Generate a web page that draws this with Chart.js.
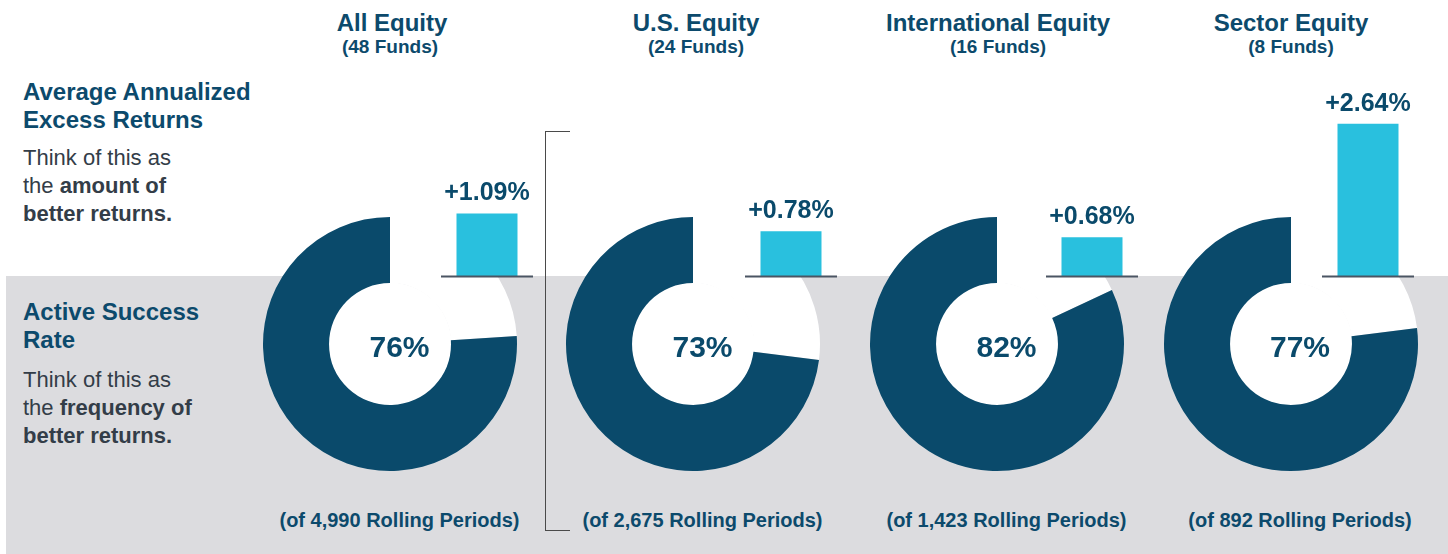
<!DOCTYPE html>
<html>
<head>
<meta charset="utf-8">
<script src="https://cdn.jsdelivr.net/npm/chart.js@4.4.1/dist/chart.umd.min.js"></script>
<style>
  html, body { margin:0; padding:0; width:1448px; height:554px; overflow:hidden; background:#fff; }
  body { position:relative; font-family:"Liberation Sans", Arial, sans-serif; }
  #band { position:absolute; left:6px; top:276px; width:1442px; height:278px; background:#dcdcdf; }
  .t { position:absolute; white-space:nowrap; color:#0c4a6c; font-weight:bold; }
  .c { transform:translateX(-50%); }
  .title { font-size:24px; line-height:24px; }
  .sub { font-size:19px; line-height:19px; }
  .head { font-size:24px; line-height:28px; }
  .body { font-size:22px; line-height:28px; color:#333d48; font-weight:normal; }
  .body b { font-weight:bold; }
  .roll { font-size:20px; line-height:20px; }
  canvas { position:absolute; }
  #bracket { position:absolute; left:545px; top:131px; width:24px; height:398px; border:1.5px solid #4a4a4a; border-right:none; }
</style>
</head>
<body>
<div id="band"></div>
<div id="bracket"></div>

<script>
// ---- data ----
const groups = ["All Equity", "U.S. Equity", "International Equity", "Sector Equity"];
const fundCounts = ["(48 Funds)", "(24 Funds)", "(16 Funds)", "(8 Funds)"];
const successRates = [76, 73, 82, 77];
const excessReturns = [1.09, 0.78, 0.68, 2.64];
const rollingPeriods = ["4,990", "2,675", "1,423", "892"];

// ---- layout (positions only) ----
const donutCX = [390, 693, 997, 1291];
const donutCY = 344;
const titleCX = [392, 696, 998, 1291];
const subCX = [390, 696, 998, 1291];
const labelCX = [399.5, 702.5, 1006.5, 1300];
const barLeft = [441, 745, 1046, 1322];

const DARK = "#0a4a6b";
const CYAN = "#29c0de";

function addText(cls, html, x, y) {
  const d = document.createElement("div");
  d.className = "t " + cls;
  d.innerHTML = html;
  d.style.left = x + "px";
  d.style.top = y + "px";
  document.body.appendChild(d);
  return d;
}

// Left-side explanatory text
addText("head", "Average Annualized<br>Excess Returns", 23, 78);
addText("body", "Think of this as<br>the <b>amount of</b><br><b>better returns.</b>", 23, 144);
addText("head", "Active Success<br>Rate", 23, 298);
addText("body", "Think of this as<br>the <b>frequency of</b><br><b>better returns.</b>", 23, 366);

groups.forEach((g, i) => {
  addText("title c", g, titleCX[i], 10.7);
  addText("sub c", fundCounts[i], subCX[i], 37.2);
  addText("roll c", "(of " + rollingPeriods[i] + " Rolling Periods)", labelCX[i], 509.8);
});

// ---- doughnuts ----
const donutDeco = {
  id: "donutDeco",
  beforeDatasetsDraw(chart) {
    const arc = chart.getDatasetMeta(0).data[0];
    const ctx = chart.ctx;
    ctx.save();
    ctx.fillStyle = "#ffffff";
    ctx.beginPath();
    ctx.arc(arc.x, arc.y, arc.innerRadius + 0.5, 0, Math.PI * 2);
    ctx.fill();
    ctx.restore();
  },
  afterDraw(chart, args, opts) {
    const ctx = chart.ctx;
    const arc = chart.getDatasetMeta(0).data[0];
    ctx.save();
    ctx.fillStyle = DARK;
    ctx.font = "bold 30px 'Liberation Sans', Arial, sans-serif";
    ctx.textAlign = "center";
    ctx.textBaseline = "alphabetic";
    ctx.fillText(opts.text, arc.x + opts.dx, arc.y + 12.7);
    ctx.restore();
  }
};

successRates.forEach((v, i) => {
  const size = 260;
  const cv = document.createElement("canvas");
  cv.width = size; cv.height = size;
  cv.style.left = (donutCX[i] - size / 2) + "px";
  cv.style.top = (donutCY - size / 2) + "px";
  cv.style.width = size + "px"; cv.style.height = size + "px";
  document.body.appendChild(cv);
  new Chart(cv, {
    type: "doughnut",
    data: {
      labels: ["Underperform", "Outperform"],
      datasets: [{
        data: [100 - v, v],
        backgroundColor: ["#ffffff", DARK],
        borderWidth: 0,
        hoverOffset: 0
      }]
    },
    options: {
      responsive: false,
      animation: false,
      cutout: "48%",
      rotation: 0,
      layout: { padding: 3 },
      plugins: {
        legend: { display: false },
        tooltip: { enabled: false },
        donutDeco: { text: v + "%", dx: labelCX[i] - donutCX[i] }
      }
    },
    plugins: [donutDeco]
  });
});

// ---- bars ----
const barDeco = {
  id: "barDeco",
  afterDatasetsDraw(chart, args, opts) {
    const ctx = chart.ctx;
    const a = chart.chartArea;
    const y0 = chart.scales.y.getPixelForValue(0);
    ctx.save();
    ctx.strokeStyle = "#4b5563";
    ctx.lineWidth = 2;
    ctx.beginPath();
    ctx.moveTo(a.left, y0);
    ctx.lineTo(a.right, y0);
    ctx.stroke();
    const bar = chart.getDatasetMeta(0).data[0];
    ctx.fillStyle = DARK;
    ctx.font = "bold 25px 'Liberation Sans', Arial, sans-serif";
    ctx.textAlign = "center";
    ctx.textBaseline = "alphabetic";
    ctx.fillText(opts.text, bar.x, bar.y - 13);
    ctx.restore();
  }
};

excessReturns.forEach((v, i) => {
  const w = 112, h = 218, top = 60;
  const cv = document.createElement("canvas");
  cv.width = w; cv.height = h;
  cv.style.left = (barLeft[i] - 10) + "px";
  cv.style.top = top + "px";
  cv.style.width = w + "px"; cv.style.height = h + "px";
  document.body.appendChild(cv);
  new Chart(cv, {
    type: "bar",
    data: {
      labels: [groups[i]],
      datasets: [{ data: [v], backgroundColor: CYAN, borderWidth: 0 }]
    },
    options: {
      responsive: false,
      animation: false,
      layout: { padding: { left: 10, right: 10, top: 0, bottom: 1.5 } },
      scales: {
        x: { display: false, offset: true },
        y: { display: false, min: 0, max: 3.74 }
      },
      datasets: { bar: { barPercentage: 0.663, categoryPercentage: 1 } },
      plugins: {
        legend: { display: false },
        tooltip: { enabled: false },
        barDeco: { text: "+" + v.toFixed(2) + "%" }
      }
    },
    plugins: [barDeco]
  });
});
</script>
</body>
</html>
